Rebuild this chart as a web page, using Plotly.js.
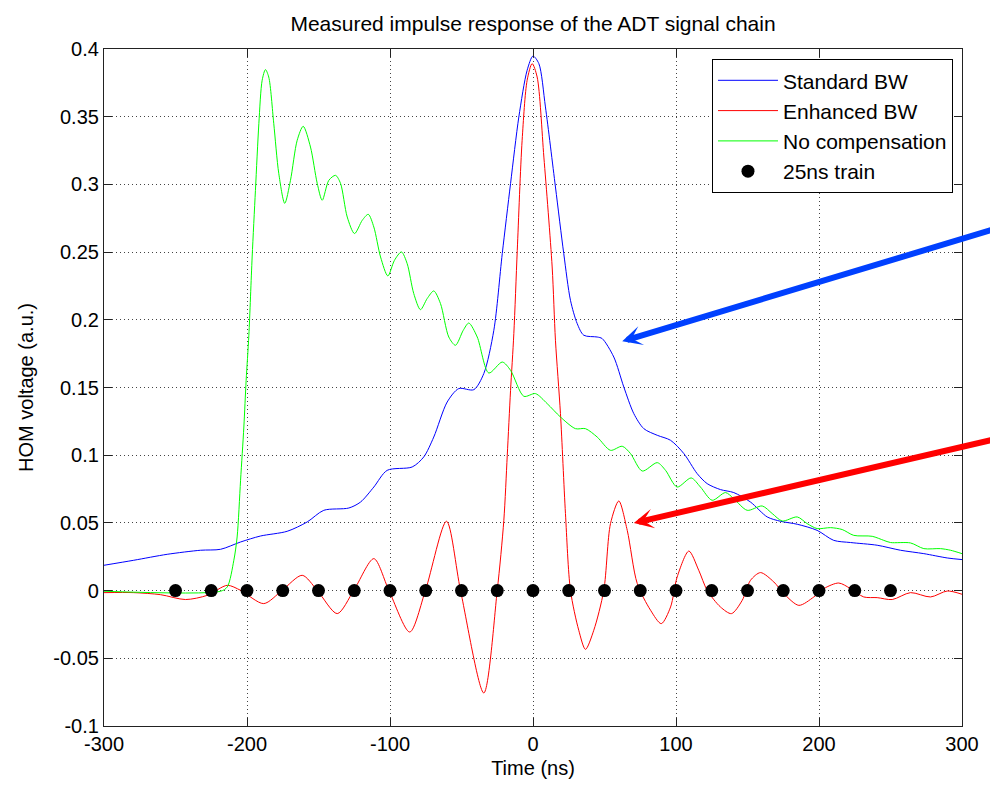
<!DOCTYPE html>
<html>
<head>
<meta charset="utf-8">
<script src="https://cdn.plot.ly/plotly-3.0.1.min.js"></script>
<style>html,body{margin:0;padding:0;background:#fff;}#chart{width:990px;height:786px;}</style>
</head>
<body>
<div id="chart"></div>
<script>
// ---- Data ----
const seriesNames = ['Standard BW', 'Enhanced BW', 'No compensation', '25ns train'];

const standardX = [-300,-279.2,-255.8,-232.5,-218.5,-204.5,-190.6,-171.9,-157.9,-146.3,-128.8,-120.6,-111.3,-102.0,-84.5,-76.4,-69.4,-60.0,-51.9,-41.4,-34.4,-27.4,-21.5,-15.7,-9.9,-4.1,0,4.1,8.7,15.7,21.5,26.2,30.9,35.5,44.9,48.4,56.5,63.5,70.5,77.5,86.9,96.2,105.5,114.8,121.8,131.1,140.4,152.1,163.8,173.1,184.8,198.7,210.3,222.0,240.7,257.0,273.3,289.7,300];
const standardY = [0.0187,0.0224,0.0268,0.0298,0.0305,0.0359,0.0403,0.0438,0.0507,0.0593,0.0610,0.0654,0.0765,0.0888,0.0913,0.0987,0.1134,0.1393,0.1492,0.1484,0.1603,0.1922,0.2489,0.3006,0.3498,0.3843,0.3948,0.3892,0.3572,0.2981,0.2489,0.2144,0.1972,0.1886,0.1873,0.1861,0.1725,0.1504,0.1307,0.1196,0.1147,0.1110,0.1012,0.0864,0.0790,0.0746,0.0724,0.0654,0.0544,0.0512,0.0490,0.0445,0.0371,0.0355,0.0335,0.0298,0.0273,0.0241,0.0229];

const enhancedX = [-300,-279.2,-260.5,-243.0,-227.8,-213.8,-204.5,-188.3,-175.4,-161.4,-150.9,-136.9,-125.3,-111.3,-100.8,-86.2,-75.2,-60.5,-50.7,-34.4,-25.0,-20.4,-18.0,-15.7,-13.4,-11.0,-7.6,-4.1,-0.6,2.9,7.6,13.4,15.7,19.2,22.7,26.2,32.0,36.7,42.5,49.5,54.2,60.0,65.9,72.9,82.2,89.7,96.2,100.8,109.0,115.9,121.8,131.1,138.8,146.3,152.1,159.1,168.4,175.4,185.9,196.4,203.4,213.8,222.0,231.3,240.7,251.2,264.0,278.0,289.7,300];
const enhancedY = [-0.0015,-0.0015,-0.0030,-0.0066,-0.0035,0.0039,0.0002,-0.0096,0.0002,0.0113,0.0002,-0.0170,0.0002,0.0236,0.0002,-0.0306,0.0002,0.0512,0.0002,-0.0756,0.0002,0.0519,0.0999,0.1479,0.1898,0.2513,0.3326,0.3769,0.3892,0.3793,0.3202,0.2390,0.1849,0.1307,0.0569,0.0002,-0.0293,-0.0434,-0.0293,0.0002,0.0495,0.0662,0.0445,0.0052,-0.0145,-0.0244,-0.0121,0.0100,0.0292,0.0150,0.0002,-0.0121,-0.0170,-0.0072,0.0076,0.0133,0.0064,-0.0022,-0.0109,-0.0047,0.0015,0.0056,0.0015,-0.0047,-0.0052,-0.0066,-0.0015,-0.0047,-0.0003,-0.0027];

const noCompX = [-300,-218.5,-213.8,-209.2,-206.9,-204.5,-202.2,-200.6,-198.7,-196.4,-194.1,-191.7,-189.4,-187.1,-184.8,-181.3,-177.8,-173.6,-169.6,-164.9,-160.7,-155.6,-150.9,-147.4,-142.8,-138.1,-134.6,-129.9,-124.8,-119.4,-115.2,-111.3,-106.6,-101.5,-96.9,-92.0,-88.0,-83.4,-78.7,-74.0,-69.4,-64.7,-58.9,-54.2,-48.8,-44.9,-39.0,-30.9,-21.5,-15.7,-6.4,1.7,9.9,19.2,29.7,36.7,44.9,54.2,62.4,68.2,76.4,86.9,92.7,100.8,110.6,117.1,125.3,134.6,140.4,149.8,160.3,167.3,174.3,184.8,191.7,198.7,208.0,216.2,224.3,237.2,245.3,250.0,264.0,273.3,285.0,292.0,300];
const noCompY = [-0.0005,-0.0005,0.0027,0.0224,0.0396,0.0815,0.1208,0.1553,0.1886,0.2464,0.2956,0.3451,0.3769,0.3848,0.3793,0.3451,0.3082,0.2860,0.3030,0.3326,0.3429,0.3276,0.3008,0.2883,0.3030,0.3067,0.3008,0.2759,0.2637,0.2735,0.2779,0.2685,0.2464,0.2324,0.2439,0.2501,0.2415,0.2194,0.2075,0.2157,0.2213,0.2120,0.1873,0.1812,0.1922,0.1976,0.1873,0.1607,0.1688,0.1627,0.1435,0.1455,0.1381,0.1282,0.1196,0.1196,0.1134,0.1036,0.1066,0.1012,0.0883,0.0945,0.0888,0.0765,0.0832,0.0765,0.0667,0.0724,0.0679,0.0593,0.0625,0.0569,0.0514,0.0544,0.0495,0.0458,0.0465,0.0451,0.0408,0.0401,0.0371,0.0355,0.0352,0.0310,0.0310,0.0298,0.0273];

const trainX = [-250,-225,-200,-175,-150,-125,-100,-75,-50,-25,0,25,50,75,100,125,150,175,200,225,250];
const trainY = [0,0,0,0,0,0,0,0,0,0,0,0,0,0,0,0,0,0,0,0,0];

const xTickVals = [-300,-200,-100,0,100,200,300];
const xTickText = ['-300','-200','-100','0','100','200','300'];
const yTickVals = [-0.1,-0.05,0,0.05,0.1,0.15,0.2,0.25,0.3,0.35,0.4];
const yTickText = ['-0.1','-0.05','0','0.05','0.1','0.15','0.2','0.25','0.3','0.35','0.4'];

const titleText = 'Measured impulse response of the ADT signal chain';
const xTitle = 'Time (ns)';
const yTitle = 'HOM voltage (a.u.)';

// ---- Traces ----
const traces = [
  {x: standardX, y: standardY, name: seriesNames[0], type: 'scatter', mode: 'lines',
   line: {color: '#0000ff', width: 1, shape: 'spline', smoothing: 0.8}},
  {x: enhancedX, y: enhancedY, name: seriesNames[1], type: 'scatter', mode: 'lines',
   line: {color: '#ff0000', width: 1, shape: 'spline', smoothing: 0.8}},
  {x: noCompX, y: noCompY, name: seriesNames[2], type: 'scatter', mode: 'lines',
   line: {color: '#00ff00', width: 1, shape: 'spline', smoothing: 0.8}},
  {x: trainX, y: trainY, name: seriesNames[3], type: 'scatter', mode: 'markers',
   marker: {color: '#000000', size: 13, symbol: 'circle'}}
];

const axisCommon = {
  showline: true, linecolor: '#222', linewidth: 1.2, mirror: 'ticks',
  ticks: 'inside', ticklen: 8, tickcolor: '#222', tickwidth: 1,
  showgrid: true, gridcolor: '#444', gridwidth: 1, griddash: '1px,3px',
  zeroline: false, tickfont: {size: 20, color: '#000'}
};

const layout = {
  width: 990, height: 786,
  margin: {l: 104, r: 28, t: 49, b: 60},
  paper_bgcolor: '#fff', plot_bgcolor: '#fff',
  font: {family: '"Liberation Sans", Arial, sans-serif', size: 20, color: '#000'},
  title: {text: titleText, font: {size: 21, color: '#000'}, x: 0.5, xref: 'paper',
          y: 1 - 24/786, yref: 'container', yanchor: 'middle', xanchor: 'center'},
  xaxis: Object.assign({}, axisCommon, {
    range: [-300, 300], tickmode: 'array', tickvals: xTickVals, ticktext: xTickText,
    title: {text: xTitle, font: {size: 20}, standoff: 6}
  }),
  yaxis: Object.assign({}, axisCommon, {
    range: [-0.1, 0.4], tickmode: 'array', tickvals: yTickVals, ticktext: yTickText,
    title: {text: yTitle, font: {size: 20}, standoff: 14}
  }),
  showlegend: true,
  legend: {x: 0.9895, xanchor: 'right', y: 0.985, yanchor: 'top',
           bgcolor: '#fff', bordercolor: '#000', borderwidth: 1,
           font: {size: 21, color: '#000'}, tracegroupgap: 0, itemwidth: 60},
  annotations: [
    {x: 62.4, y: 0.1841, ax: 328, ay: 0.2687, xref: 'x', yref: 'y', axref: 'x', ayref: 'y',
     text: '', showarrow: true, arrowhead: 3, arrowsize: 0.55, arrowwidth: 6,
     arrowcolor: 'rgb(0,64,255)', standoff: 0},
    {x: 70.5, y: 0.0499, ax: 328, ay: 0.1130, xref: 'x', yref: 'y', axref: 'x', ayref: 'y',
     text: '', showarrow: true, arrowhead: 3, arrowsize: 0.55, arrowwidth: 6,
     arrowcolor: 'rgb(255,0,0)', standoff: 0}
  ]
};

Plotly.newPlot('chart', traces, layout, {displayModeBar: false, responsive: false});
</script>
</body>
</html>
